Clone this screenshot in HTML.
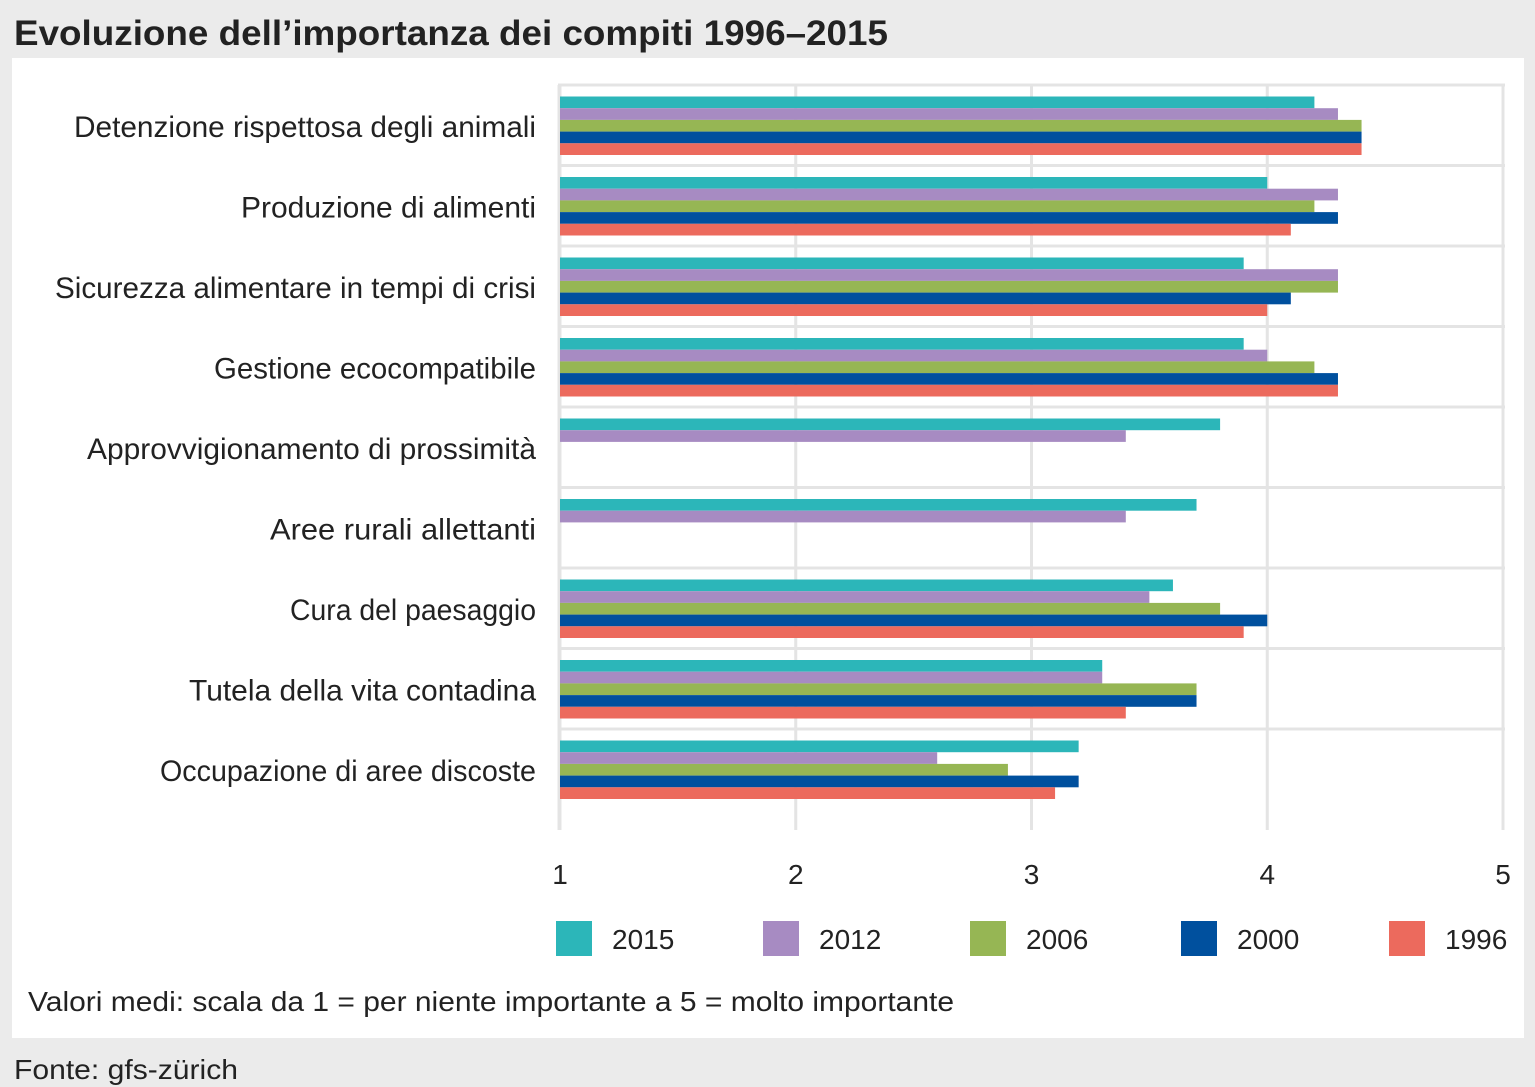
<!DOCTYPE html>
<html><head><meta charset="utf-8"><style>
body{margin:0;background:#ebebeb;width:1535px;height:1087px;overflow:hidden;font-family:"Liberation Sans",sans-serif;}
svg{position:absolute;left:0;top:0}
</style></head><body>
<svg width="1535" height="1087">
<rect x="0" y="0" width="1535" height="1087" fill="#ebebeb"/>
<text x="14" y="45" font-size="35" font-weight="bold" fill="#222" textLength="874" lengthAdjust="spacingAndGlyphs">Evoluzione dell’importanza dei compiti 1996–2015</text>
<rect x="12" y="58" width="1512" height="980" fill="#fff"/>
<g id="grid"></g><g id="bars"></g><g id="labels"></g><g id="legend"></g>
<text x="28" y="1011" font-size="28" fill="#222" textLength="926" lengthAdjust="spacingAndGlyphs">Valori medi: scala da 1 = per niente importante a 5 = molto importante</text>
<text x="14" y="1079" font-size="28" fill="#222" textLength="224" lengthAdjust="spacingAndGlyphs">Fonte: gfs-zürich</text>
</svg>
<script>
const categories=["Detenzione rispettosa degli animali","Produzione di alimenti","Sicurezza alimentare in tempi di crisi","Gestione ecocompatibile","Approvvigionamento di prossimità","Aree rurali allettanti","Cura del paesaggio","Tutela della vita contadina","Occupazione di aree discoste"];
const seriesNames=["2015","2012","2006","2000","1996"];
const v2015=[4.2,4.0,3.9,3.9,3.8,3.7,3.6,3.3,3.2];
const v2012=[4.3,4.3,4.3,4.0,3.4,3.4,3.5,3.3,2.6];
const v2006=[4.4,4.2,4.3,4.2,null,null,3.8,3.7,2.9];
const v2000=[4.4,4.3,4.1,4.3,null,null,4.0,3.7,3.2];
const v1996=[4.4,4.1,4.0,4.3,null,null,3.9,3.4,3.1];
const ticks=[1,2,3,4,5];
const series=[v2015,v2012,v2006,v2000,v1996];
const labelWidths=[462,295,481,322,449,266,246,347,376];
const colors=["#2cb6b9","#a78bc2","#96b654","#00509e","#ec6a5d"];
const NS="http://www.w3.org/2000/svg";
const x=v=>560+(v-1)*235.75;
const rowTop=i=>85+i*80.5;
function mk(t,a,p){const e=document.createElementNS(NS,t);for(const k in a)e.setAttribute(k,a[k]);p.appendChild(e);return e;}
const G=document.getElementById('grid'),B=document.getElementById('bars'),L=document.getElementById('labels'),LG=document.getElementById('legend');
ticks.forEach(t=>{const l=mk('line',{x1:x(t),x2:x(t),y1:85,y2:830,stroke:'#e4e4e4','stroke-width':3},G);


const tx=mk('text',{x:x(t),y:884,'font-size':28,fill:'#222','text-anchor':'middle'},L);tx.textContent=t;

});
for(let i=0;i<=categories.length-1;i++){const y=rowTop(i);const l=mk('line',{x1:558,x2:1505,y1:y,y2:y,stroke:'#e4e4e4','stroke-width':3},G);

}
const ax=mk('line',{x1:559,x2:559,y1:85,y2:830,stroke:'#e4e4e4','stroke-width':3},G);


categories.forEach((c,i)=>{const top=rowTop(i)+11.5;
series.forEach((s,j)=>{if(s[i]==null)return;const r=mk('rect',{x:560,y:top+j*11.7,width:x(s[i])-560,height:11.7,fill:colors[j]},B);

});
const t=mk('text',{x:536,y:rowTop(i)+52,'font-size':30,fill:'#222','text-anchor':'end',textLength:labelWidths[i],lengthAdjust:'spacingAndGlyphs'},L);t.textContent=c;

});
const lx=[556,763,970,1181,1389];
seriesNames.forEach((n,j)=>{const r=mk('rect',{x:lx[j],y:921,width:36,height:35,fill:colors[j]},LG);


const t=mk('text',{x:lx[j]+56,y:949,'font-size':28,fill:'#222'},LG);t.textContent=n;

});
</script>
</body></html>
